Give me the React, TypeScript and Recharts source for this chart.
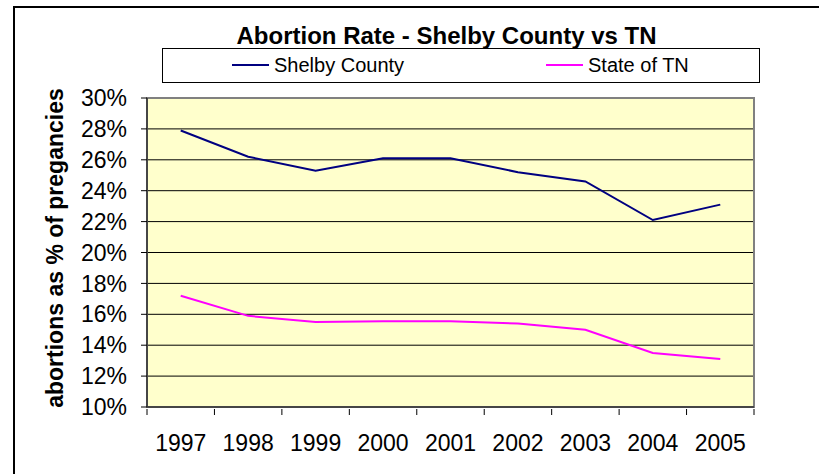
import React from "react";
import {
  LineChart,
  Line,
  XAxis,
  YAxis,
  CartesianGrid,
  ReferenceArea,
} from "recharts";

const years = ["1997", "1998", "1999", "2000", "2001", "2002", "2003", "2004", "2005"];
const shelbyCounty = [27.9, 26.2, 25.3, 26.1, 26.1, 25.2, 24.6, 22.1, 23.1];
const stateOfTN = [17.2, 15.9, 15.5, 15.55, 15.55, 15.4, 15.0, 13.5, 13.1];
const yTicks = [10, 12, 14, 16, 18, 20, 22, 24, 26, 28, 30];

const seriesNames = ["Shelby County", "State of TN"];
const seriesColors = ["#000080", "#FF00FF"];

const data = years.map((year, i) => ({
  year,
  shelby: shelbyCounty[i],
  tn: stateOfTN[i],
}));

const font = "'Liberation Sans', Arial, sans-serif";

// label in the middle of the band, tick mark on the band edges
function YearTick(props: any) {
  const { x, y, payload, index, width } = props;
  const band = width / years.length;
  return (
    <g>
      <line x1={x - band / 2} y1={y} x2={x - band / 2} y2={y + 6} stroke="#000" />
      {index === years.length - 1 && (
        <line x1={x + band / 2} y1={y} x2={x + band / 2} y2={y + 6} stroke="#000" />
      )}
      <text
        x={x}
        y={y + 42}
        textAnchor="middle"
        fontSize={23}
        fontFamily={font}
        fill="#000"
      >
        {payload.value}
      </text>
    </g>
  );
}

export default function App() {
  return (
    <div
      style={{
        position: "absolute",
        left: 0,
        top: 0,
        width: 819,
        height: 474,
        background: "#fff",
        overflow: "hidden",
        fontFamily: font,
      }}
    >
      <div
        style={{
          position: "absolute",
          left: 13,
          top: 6,
          width: 900,
          height: 600,
          borderLeft: "2px solid #000",
          borderTop: "2px solid #000",
        }}
      />
      <div
        style={{
          position: "absolute",
          left: 0,
          width: 893,
          top: 24,
          textAlign: "center",
          fontSize: 24,
          lineHeight: "24px",
          fontWeight: "bold",
          color: "#000",
        }}
      >
        Abortion Rate - Shelby County vs TN
      </div>
      <div
        style={{
          position: "absolute",
          left: 162,
          top: 48,
          width: 596,
          height: 33,
          border: "1px solid #000",
          background: "#fff",
        }}
      >
        {seriesNames.map((name, i) => (
          <div
            key={name}
            style={{
              position: "absolute",
              left: i === 0 ? 69 : 383,
              top: 6,
              display: "flex",
              alignItems: "center",
              fontSize: 20,
              lineHeight: "20px",
              whiteSpace: "nowrap",
            }}
          >
            <span
              style={{
                display: "inline-block",
                width: 37,
                height: 2,
                background: seriesColors[i],
                marginRight: 5,
              }}
            />
            {name}
          </div>
        ))}
      </div>
      <div
        style={{
          position: "absolute",
          left: 55,
          top: 248,
          transform: "translate(-50%, -50%) rotate(-90deg)",
          fontSize: 23,
          fontWeight: "bold",
          whiteSpace: "nowrap",
          lineHeight: "23px",
        }}
      >
        abortions as % of pregancies
      </div>
      <div style={{ position: "absolute", left: 0, top: 0 }}>
        <LineChart
          width={819}
          height={474}
          data={data}
          margin={{ top: 98, right: 65, bottom: 0, left: 0 }}
        >
          <CartesianGrid vertical={false} stroke="#000" fill="#FFFFCC" fillOpacity={1} />
          <XAxis
            dataKey="year"
            scale="band"
            height={67}
            tickLine={false}
            tickSize={0}
            axisLine={{ stroke: "#333", strokeWidth: 1.5 }}
            tick={<YearTick />}
            interval={0}
          />
          <YAxis
            width={147}
            domain={[10, 30]}
            ticks={yTicks}
            interval={0}
            tickSize={6}
            tickMargin={14}
            tickFormatter={(v: number) => `${v}%`}
            tick={{ fontSize: 23, fill: "#000", fontFamily: font }}
            tickLine={{ stroke: "#000" }}
            axisLine={{ stroke: "#333", strokeWidth: 1.5 }}
          />
          <ReferenceArea
            y1={10}
            y2={30}
            fill="none"
            stroke="#808080"
            strokeWidth={2}
          />
          <Line
            dataKey="shelby"
            name={seriesNames[0]}
            stroke={seriesColors[0]}
            strokeWidth={2}
            dot={false}
            isAnimationActive={false}
          />
          <Line
            dataKey="tn"
            name={seriesNames[1]}
            stroke={seriesColors[1]}
            strokeWidth={2}
            dot={false}
            isAnimationActive={false}
          />
        </LineChart>
      </div>
    </div>
  );
}
